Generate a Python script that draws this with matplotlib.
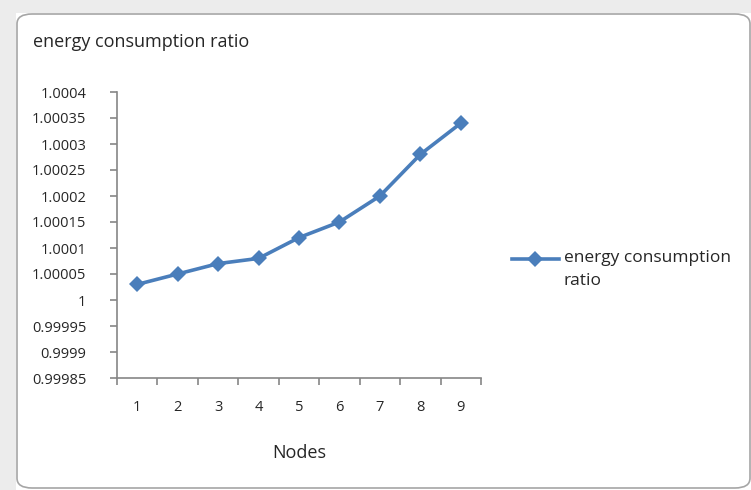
import matplotlib.pyplot as plt
from matplotlib.patches import FancyBboxPatch, Rectangle

nodes = ['1', '2', '3', '4', '5', '6', '7', '8', '9']
ratio = [1.00003, 1.00005, 1.00007, 1.00008, 1.00012, 1.00015, 1.00020, 1.00028, 1.00034]
y_ticks = [0.99985, 0.9999, 0.99995, 1.0, 1.00005, 1.0001, 1.00015, 1.0002, 1.00025, 1.0003, 1.00035, 1.0004]
y_labels = ['0.99985', '0.9999', '0.99995', '1', '1.00005', '1.0001', '1.00015', '1.0002',
            '1.00025', '1.0003', '1.00035', '1.0004']

plt.rcParams['font.family'] = ['Open Sans', 'DejaVu Sans']
text_col = '#262626'
axis_col = '#868686'
line_col = '#4a7ebb'

fig = plt.figure(figsize=(7.51, 4.90), dpi=100)

# spreadsheet strip around the chart object
fig.patches.append(Rectangle((0, 0), 16 / 751, 1, transform=fig.transFigure,
                             facecolor='#ececec', edgecolor='none', zorder=0))
fig.patches.append(Rectangle((0, 1 - 13 / 490), 1, 13 / 490, transform=fig.transFigure,
                             facecolor='#ececec', edgecolor='none', zorder=0))
fig.patches.append(FancyBboxPatch((17 / 751, 2 / 490), 733 / 751, 474 / 490,
                                  boxstyle='round,pad=0,rounding_size=0.02',
                                  transform=fig.transFigure, facecolor='white',
                                  edgecolor='#a6a6a6', linewidth=1.2, zorder=1))

ax = fig.add_axes([117 / 751, 1 - 378 / 490, 364 / 751, 286 / 490])
ax.set_zorder(2)
ax.patch.set_alpha(0)

x = list(range(1, len(nodes) + 1))
line, = ax.plot(x, ratio, color=line_col, linewidth=2.6, marker='D', markersize=8.5,
                markeredgewidth=0, label='energy consumption\nratio')

ax.set_xlim(0.5, len(nodes) + 0.5)
ax.set_ylim(y_ticks[0], y_ticks[-1])
ax.set_yticks(y_ticks)
ax.set_yticklabels(y_labels)
ax.set_xticks(x)
ax.set_xticklabels(nodes)
ax.set_xticks([i + 0.5 for i in range(len(nodes) + 1)], minor=True)

for side in ['top', 'right']:
    ax.spines[side].set_visible(False)
for side in ['left', 'bottom']:
    ax.spines[side].set_color(axis_col)
    ax.spines[side].set_linewidth(1.2)

ax.tick_params(axis='y', direction='out', length=5, width=1.2, color=axis_col,
               labelsize=10.5, labelcolor=text_col, pad=17)
ax.tick_params(axis='x', which='major', length=0, labelsize=10.5, labelcolor=text_col, pad=16)
ax.tick_params(axis='x', which='minor', direction='out', length=5, width=1.2, color=axis_col)

ax.set_xlabel('Nodes', fontsize=13, color=text_col, labelpad=21)

fig.text(33 / 751, 1 - 42 / 490, 'energy consumption ratio', fontsize=13,
         color=text_col, ha='left', va='center')

# taller handle box lifts the legend line up to the first text line
leg = fig.legend(handles=[line], loc='center left', bbox_to_anchor=(496 / 751, 1 - 271 / 490),
                 frameon=False, fontsize=12.5, labelcolor=text_col, handlelength=2.7,
                 handletextpad=0.3, handleheight=4.5)
leg.get_texts()[0].set_linespacing(1.55)

fig.savefig('out.png', dpi=100)
